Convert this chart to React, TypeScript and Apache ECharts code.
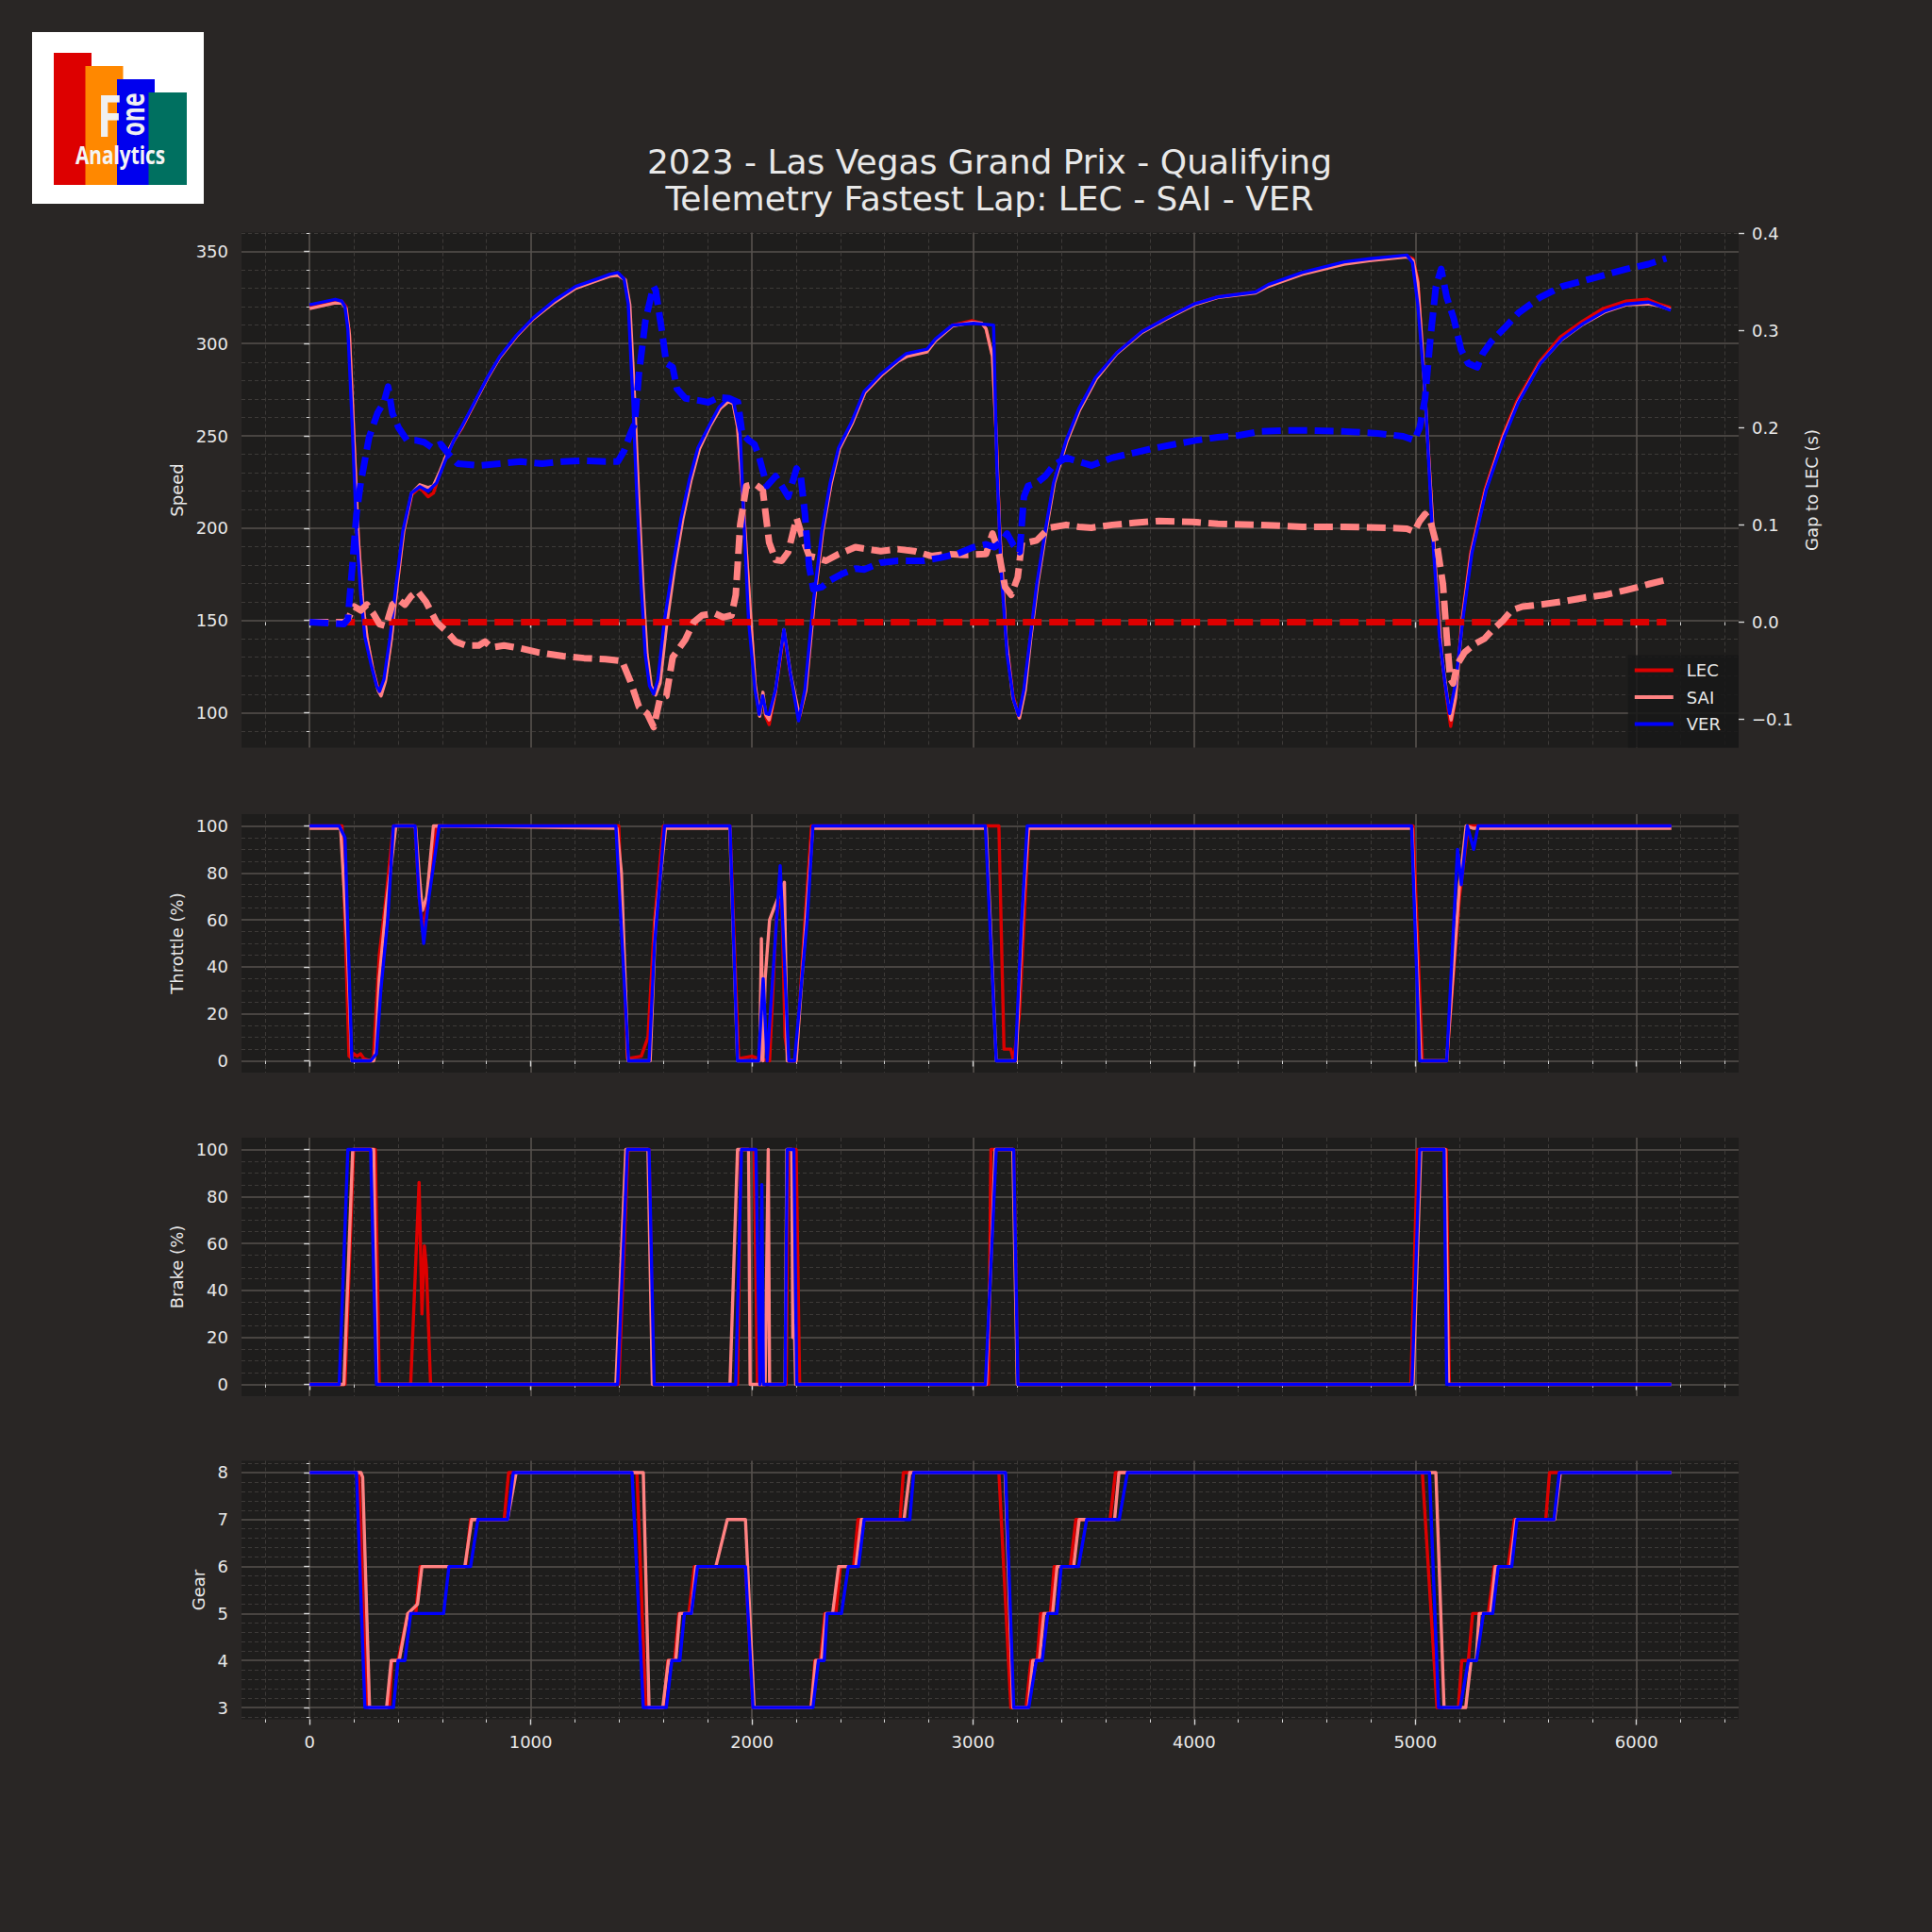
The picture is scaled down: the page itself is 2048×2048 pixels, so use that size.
import React, { useEffect, useRef } from 'react';
import * as echarts from 'echarts';

// ---------- tick labels ----------
const xTicks = [0, 1000, 2000, 3000, 4000, 5000, 6000];
const speedTicks = [100, 150, 200, 250, 300, 350];
const gapTicks = [-0.1, 0, 0.1, 0.2, 0.3, 0.4];
const pedalTicks = [0, 20, 40, 60, 80, 100];
const gearTicks = [3, 4, 5, 6, 7, 8];
const drivers = ['LEC', 'SAI', 'VER'];

const titleLine1 = '2023 - Las Vegas Grand Prix - Qualifying';
const titleLine2 = 'Telemetry Fastest Lap: LEC - SAI - VER';

// ---------- speed [distance m, km/h] ----------
const lecSpeed = [[0,320],[116,323],[145,323],[165,320],[180,305],[200,250],[220,195],[240,160],[260,140],[285,124],[310,113],[323,110.5],[343,118],[370,141],[398,171],[425,198],[462,218],[498,222],[536,217],[560,219],[590,230],[620,240],[650,247],[688,254],[745,267.5],[803,281],[860,292.5],[936,304],[1012,313.5],[1108,323],[1203,330.5],[1298,334.5],[1356,337],[1394,337.5],[1425,335],[1445,321],[1465,274],[1485,217],[1504,169.5],[1523,131.5],[1542,114.5],[1560,110.5],[1580,118],[1608,148.5],[1646,179],[1684,205.5],[1722,226.5],[1760,243.5],[1808,255],[1855,265],[1893,269],[1915,268],[1935,255],[1960,215],[1990,160],[2015,115],[2035,99],[2050,109],[2062,98],[2078,93.5],[2107,111],[2145,143],[2175,120],[2215,97.5],[2244,112],[2282,160],[2320,198],[2358,224.5],[2396,243.5],[2453,257],[2511,273.5],[2587,283],[2663,291],[2700,293],[2792,296],[2830,302],[2907,310],[2995,312.5],[3040,311],[3059,308],[3088,293],[3105,250],[3120,200],[3150,140],[3180,110],[3206,98],[3232,112.5],[3260,141],[3290,169.5],[3328,198],[3366,224.5],[3423,247.5],[3480,264.5],[3556,281.5],[3650,295],[3764,306.5],[3878,314],[4000,321.5],[4107,325.3],[4278,328],[4335,331.5],[4488,338],[4678,343.8],[4793,345.5],[4962,347.5],[4990,346],[5011,335],[5030,300],[5060,240],[5090,180],[5120,130],[5145,105],[5160,92.5],[5180,106],[5210,150],[5250,186.5],[5315,221],[5395,250],[5460,269],[5560,290],[5655,303.5],[5755,312],[5850,319],[5950,323],[6050,324],[6100,321.5],[6155,319.5]];
const saiSpeed = [[0,319],[116,322],[145,322],[165,319],[180,305],[200,250],[220,195],[240,160],[260,140],[285,124],[310,112],[323,109],[343,117],[370,140],[398,171],[425,198],[462,219],[498,223.5],[536,222],[560,223],[590,231],[620,240],[650,247],[688,254.5],[745,267.5],[803,281],[860,292.5],[936,304],[1012,313.5],[1108,322.5],[1203,330],[1298,334],[1356,336.5],[1394,337],[1428,334.5],[1448,321],[1468,274],[1488,217],[1507,169.5],[1526,131.5],[1545,114.5],[1565,109.5],[1585,116],[1613,146],[1650,178],[1688,205],[1725,226],[1763,243],[1810,255],[1858,265],[1893,268.5],[1915,267.5],[1935,255],[1960,215],[1990,160],[2015,115],[2035,98],[2050,111],[2062,99],[2078,96],[2107,112],[2145,145],[2175,121],[2215,98],[2244,112],[2282,160],[2320,198],[2358,224],[2396,243],[2453,256.5],[2511,273.5],[2587,283],[2663,290.5],[2700,293],[2792,295.5],[2830,301.5],[2907,309.5],[2995,311.5],[3040,311],[3059,308],[3088,293],[3105,250],[3120,200],[3150,140],[3180,108],[3210,97],[3236,112],[3262,141],[3292,169.5],[3330,198],[3368,224.5],[3425,247],[3482,264],[3558,281],[3650,294.5],[3764,306],[3878,313.5],[4000,321],[4107,325],[4278,327.5],[4335,331],[4488,337.5],[4678,343],[4793,345],[4962,347],[4990,345],[5011,333],[5030,300],[5060,240],[5090,180],[5120,130],[5145,108],[5162,96],[5182,108],[5212,150],[5252,186],[5318,220.5],[5398,249.5],[5463,268],[5562,289],[5660,302],[5758,310.5],[5855,317],[5953,321],[6052,321.5],[6100,320.5],[6155,318.5]];
const verSpeed = [[0,321],[116,324],[145,323],[160,320],[173,308],[193,255],[212,198],[231,164],[250,141],[278,126],[303,114.5],[316,111.5],[336,118],[364,141],[393,171],[421,198],[460,219],[498,222.5],[536,220],[574,224.5],[612,236],[650,247],[688,255],[745,268],[803,281.5],[860,293],[936,304.5],[1012,314],[1108,323.5],[1203,331],[1298,335],[1356,337.5],[1394,338.5],[1422,335],[1441,321.5],[1460,274],[1480,217],[1499,169.5],[1518,131.5],[1537,114.5],[1556,110],[1575,118],[1603,148.5],[1642,179],[1680,205.5],[1718,226.5],[1756,243.5],[1804,255],[1851,265.5],[1889,270],[1918,268],[1947,251],[1966,198],[1985,150],[2014,112.5],[2033,99],[2049,109],[2065,99.5],[2078,99],[2107,112.5],[2145,145],[2173,122],[2211,95.5],[2240,112.5],[2278,160],[2316,198],[2354,224.5],[2392,243.5],[2449,257],[2507,274],[2583,283.5],[2659,291],[2697,294.5],[2792,297],[2830,302.5],[2907,310],[3002,311],[3093,310],[3107,236],[3126,179],[3154,131.5],[3183,107],[3206,98.5],[3230,112.5],[3259,141],[3288,169.5],[3326,198],[3364,224.5],[3421,247.5],[3478,264.5],[3554,281.5],[3650,295],[3764,306.5],[3878,314],[4000,321.5],[4107,325.3],[4278,328],[4335,332],[4488,338.5],[4678,344.3],[4793,346],[4962,348],[4987,344],[5011,321.5],[5044,274],[5077,198],[5109,141],[5134,116],[5155,99.5],[5182,116],[5215,150.5],[5256,186.5],[5321,220.8],[5402,249.3],[5467,268.3],[5565,289.2],[5663,302.5],[5761,311],[5858,317.7],[5956,321.5],[6054,322.5],[6103,320.5],[6155,318]];

// ---------- gap to LEC [distance m, s] ----------
const lecDelta = [[0,0],[6135,0]];
const saiDelta = [[0,0],[160,0],[173,0.003],[202,0.016],[231,0.012],[259,0.018],[288,0.009],[316,-0.002],[345,-0.004],[374,0.018],[402,0.023],[431,0.018],[460,0.027],[488,0.032],[526,0.021],[574,0],[612,-0.008],[660,-0.02],[707,-0.024],[765,-0.024],[793,-0.02],[822,-0.026],[879,-0.024],[955,-0.027],[1031,-0.031],[1146,-0.035],[1241,-0.037],[1337,-0.038],[1413,-0.04],[1451,-0.061],[1489,-0.087],[1527,-0.094],[1556,-0.108],[1584,-0.079],[1613,-0.076],[1642,-0.036],[1699,-0.018],[1737,0],[1775,0.007],[1832,0.009],[1870,0.005],[1908,0.007],[1927,0.028],[1947,0.1],[1975,0.14],[2014,0.142],[2049,0.136],[2078,0.082],[2107,0.064],[2135,0.063],[2164,0.072],[2202,0.107],[2230,0.086],[2259,0.068],[2297,0.066],[2335,0.063],[2392,0.07],[2468,0.077],[2526,0.075],[2583,0.073],[2659,0.075],[2735,0.073],[2811,0.068],[2888,0.07],[2964,0.069],[3059,0.07],[3088,0.091],[3116,0.072],[3145,0.036],[3173,0.028],[3202,0.046],[3221,0.082],[3249,0.082],[3288,0.084],[3345,0.097],[3421,0.1],[3478,0.098],[3535,0.097],[3630,0.1],[3726,0.102],[3840,0.104],[3992,0.103],[4107,0.101],[4297,0.1],[4488,0.098],[4678,0.098],[4869,0.097],[4962,0.096],[4995,0.093],[5020,0.104],[5044,0.111],[5068,0.104],[5101,0.075],[5125,0.039],[5142,-0.015],[5158,-0.058],[5171,-0.063],[5191,-0.043],[5223,-0.031],[5272,-0.022],[5313,-0.017],[5345,-0.009],[5394,0.001],[5435,0.012],[5484,0.016],[5565,0.018],[5663,0.021],[5761,0.025],[5858,0.028],[5956,0.033],[6054,0.039],[6127,0.043]];
const verDelta = [[0,0],[80,-0.001],[155,-0.002],[173,0.003],[193,0.057],[212,0.111],[231,0.143],[269,0.19],[307,0.215],[336,0.226],[355,0.242],[374,0.215],[402,0.2],[440,0.187],[479,0.187],[517,0.185],[555,0.179],[593,0.183],[631,0.172],[669,0.163],[765,0.161],[860,0.163],[955,0.165],[1051,0.163],[1146,0.165],[1241,0.166],[1337,0.165],[1394,0.165],[1422,0.176],[1451,0.194],[1470,0.204],[1489,0.255],[1518,0.309],[1546,0.337],[1556,0.345],[1565,0.341],[1594,0.298],[1613,0.266],[1642,0.262],[1661,0.24],[1699,0.23],[1756,0.228],[1804,0.226],[1851,0.231],[1899,0.23],[1937,0.226],[1956,0.194],[1985,0.187],[2011,0.183],[2030,0.172],[2068,0.14],[2107,0.15],[2135,0.14],[2164,0.129],[2202,0.158],[2221,0.15],[2240,0.111],[2259,0.057],[2278,0.034],[2316,0.036],[2354,0.043],[2411,0.05],[2468,0.055],[2507,0.054],[2583,0.061],[2659,0.063],[2773,0.063],[2849,0.066],[2926,0.07],[3002,0.077],[3059,0.08],[3097,0.077],[3126,0.082],[3154,0.091],[3183,0.079],[3211,0.072],[3230,0.129],[3249,0.14],[3288,0.143],[3326,0.15],[3364,0.161],[3421,0.169],[3478,0.165],[3535,0.161],[3630,0.169],[3726,0.174],[3821,0.179],[3916,0.183],[4011,0.187],[4107,0.19],[4202,0.192],[4297,0.196],[4411,0.197],[4526,0.197],[4678,0.196],[4831,0.194],[4945,0.191],[4995,0.187],[5020,0.2],[5044,0.23],[5068,0.291],[5093,0.345],[5117,0.363],[5142,0.334],[5174,0.312],[5207,0.28],[5239,0.266],[5280,0.262],[5305,0.276],[5345,0.289],[5402,0.302],[5467,0.318],[5565,0.334],[5663,0.345],[5761,0.351],[5858,0.357],[5956,0.363],[6054,0.368],[6135,0.374]];

// ---------- throttle [distance m, %] ----------
const lecThrottle = [[0,100],[147,100],[178,2],[190,1],[200,3],[215,2],[230,3],[245,1],[276,0],[289,2],[315,45],[340,65],[379,100],[477,100],[495,70],[516,55],[540,75],[575,100],[1398,100],[1437,1],[1500,2],[1530,10],[1560,60],[1600,100],[1901,100],[1940,1],[2000,2],[2030,1],[2080,0],[2110,60],[2134,75],[2150,10],[2165,0],[2200,0],[2240,60],[2270,100],[3117,100],[3140,5],[3171,5],[3184,0],[3210,20],[3252,100],[4990,100],[5032,0],[5142,0],[5200,70],[5240,100],[6158,100]];
const saiThrottle = [[0,99],[140,99],[170,50],[190,0],[290,0],[300,5],[315,35],[345,65],[390,100],[470,100],[480,99],[495,80],[510,64],[530,70],[560,100],[1390,99],[1410,80],[1440,0],[1540,0],[1565,60],[1610,99],[1900,99],[1935,0],[2035,0],[2043,52],[2050,0],[2060,35],[2080,60],[2100,65],[2147,76],[2160,0],[2200,0],[2245,60],[2275,99],[3060,99],[3105,0],[3195,0],[3225,65],[3250,99],[4985,99],[5025,0],[5142,0],[5200,75],[5230,100],[5260,99],[6158,99]];
const verThrottle = [[0,100],[134,100],[160,95],[191,0],[276,0],[302,3],[322,30],[353,60],[379,100],[477,100],[495,70],[516,50],[540,70],[586,100],[1385,100],[1442,0],[1535,0],[1560,50],[1605,100],[1901,100],[1935,0],[2030,0],[2051,35],[2069,0],[2128,83],[2167,0],[2193,0],[2250,60],[2276,100],[3056,100],[3105,0],[3191,0],[3220,60],[3245,100],[4983,100],[5020,0],[5142,0],[5191,90],[5208,75],[5235,100],[5264,90],[5284,100],[6158,100]];

// ---------- brake [distance m, %] ----------
const lecBrake = [[0,0],[160,0],[199,100],[297,100],[315,0],[457,0],[495,86],[508,30],[519,59],[528,50],[547,0],[1398,0],[1440,100],[1535,100],[1555,0],[1935,0],[1950,100],[2010,100],[2025,0],[2155,0],[2165,100],[2200,100],[2216,0],[3070,0],[3081,100],[3184,100],[3203,0],[4980,0],[5010,100],[5140,100],[5154,0],[6158,0]];
const saiBrake = [[0,0],[155,0],[195,100],[290,100],[305,0],[1385,0],[1430,100],[1530,100],[1550,0],[1901,0],[1935,100],[1985,100],[1992,0],[2060,0],[2074,100],[2080,0],[2150,0],[2158,100],[2180,100],[2185,20],[2192,25],[2198,0],[3060,0],[3100,100],[3180,100],[3200,0],[4990,0],[5025,100],[5135,100],[5150,0],[6158,0]];
const verBrake = [[0,0],[134,0],[173,100],[276,100],[302,0],[1393,0],[1437,100],[1535,100],[1558,0],[1927,0],[1953,100],[2018,100],[2036,0],[2045,85],[2052,0],[2150,0],[2160,100],[2190,100],[2203,0],[3056,0],[3105,100],[3184,100],[3203,0],[4985,0],[5020,100],[5130,100],[5142,0],[6158,0]];

// ---------- gear [distance m, gear] ----------
const lecGear = [[0,8],[222,8],[258,3],[360,3],[372,4],[400,4],[444,5],[480,5],[500,6],[705,6],[728,7],[880,7],[900,8],[1480,8],[1520,3],[1600,3],[1620,4],[1650,4],[1670,5],[1715,5],[1740,6],[1971,6],[2005,3],[2268,3],[2285,4],[2310,4],[2330,5],[2380,5],[2400,6],[2460,6],[2480,7],[2670,7],[2685,8],[3117,8],[3171,3],[3240,3],[3262,4],[3290,4],[3306,5],[3350,5],[3367,6],[3440,6],[3465,7],[3620,7],[3644,8],[5032,8],[5098,3],[5195,3],[5210,4],[5240,4],[5259,5],[5330,5],[5357,6],[5420,6],[5448,7],[5590,7],[5607,8],[6158,8]];
const saiGear = [[0,8],[232,8],[240,7.9],[271,3],[348,3],[369,4],[405,4],[444,5],[488,5.2],[508,6],[702,6],[733,7],[895,7],[934,8],[1509,8],[1535,3],[1597,3],[1623,4],[1656,4],[1674,5],[1726,5],[1747,6],[1837,6],[1889,7],[1971,7],[2010,3],[2268,3],[2288,4],[2315,4],[2335,5],[2365,5],[2392,6],[2470,6],[2495,7],[2688,7],[2714,8],[3145,8],[3180,3],[3250,3],[3270,4],[3300,4],[3320,5],[3360,5],[3380,6],[3455,6],[3480,7],[3640,7],[3660,8],[5093,8],[5130,3],[5228,3],[5252,4],[5275,4],[5289,5],[5340,5],[5362,6],[5430,6],[5455,7],[5630,7],[5656,8],[6158,8]];
const verGear = [[0,8],[212,8],[250,3],[379,3],[400,4],[431,4],[457,5],[606,5],[630,6],[728,6],[761,7],[895,7],[921,8],[1458,8],[1509,3],[1613,3],[1638,4],[1674,4],[1695,5],[1726,5],[1754,6],[1971,6],[2005,3],[2276,3],[2301,4],[2327,4],[2340,5],[2405,5],[2436,6],[2482,6],[2508,7],[2714,7],[2732,8],[3147,8],[3184,3],[3252,3],[3286,4],[3313,4],[3338,5],[3379,5],[3399,6],[3477,6],[3514,7],[3661,7],[3698,8],[5064,8],[5105,3],[5203,3],[5240,4],[5277,4],[5308,5],[5350,5],[5375,6],[5436,6],[5460,7],[5627,7],[5651,8],[6158,8]];

// ---------- styling ----------
const FONT = 'DejaVu Sans';
const BG = '#292625';
const PLOT_BG = '#1e1d1c';
const TXT = '#e8e8e8';
const TICK = '#d6d6d6';
const MAJOR = '#57524e';
const MINOR = '#3d3a38';
const COLORS: Record<string, string> = { LEC: '#dd0000', SAI: '#ff8282', VER: '#0000ff' };

const GRID_LEFT = 256;
const GRID_W = 1587;
const grids = [
  { top: 246.5, height: 546 },
  { top: 863, height: 274 },
  { top: 1206, height: 274 },
  { top: 1548.5, height: 274 },
];

function xAxis(gridIndex: number, showLabels: boolean) {
  return {
    type: 'value', gridIndex, min: -308, max: 6462,
    axisLine: { show: false },
    axisTick: { show: true, length: 6, customValues: xTicks, lineStyle: { color: TICK, width: 1.4 } },
    minorTick: { show: true, splitNumber: 5, length: 3.5, lineStyle: { color: TICK, width: 1 } },
    axisLabel: { show: showLabels, customValues: xTicks, margin: 15, color: TXT, fontSize: 18, fontFamily: FONT, formatter: (v: number) => String(v) },
    splitLine: { show: true, lineStyle: { color: MAJOR, width: 1.6 } },
    minorSplitLine: { show: true, lineStyle: { color: MINOR, width: 1, type: [4, 3] } },
  };
}

function yAxis(gridIndex: number, min: number, max: number, ticks: number[], minorSplit: number, name: string, nameGap: number, extra: any = {}) {
  return {
    type: 'value', gridIndex, min, max, name, nameLocation: 'middle', nameGap, nameRotate: 90,
    nameTextStyle: { color: TXT, fontSize: 18, fontFamily: FONT },
    axisLine: { show: false },
    axisTick: { show: true, length: 6, customValues: ticks, lineStyle: { color: TICK, width: 1.4 } },
    minorTick: { show: minorSplit > 0, splitNumber: minorSplit || 5, length: 3.5, lineStyle: { color: TICK, width: 1 } },
    axisLabel: { customValues: ticks, margin: 14, color: TXT, fontSize: 18, fontFamily: FONT, formatter: (v: number) => String(v) },
    splitLine: { show: true, lineStyle: { color: MAJOR, width: 1.6 } },
    minorSplitLine: { show: minorSplit > 0, lineStyle: { color: MINOR, width: 1, type: [4, 3] } },
    ...extra,
  };
}

function line(name: string, data: number[][], xi: number, yi: number, color: string, width: number, dashed = false) {
  return {
    type: 'line', name, data, xAxisIndex: xi, yAxisIndex: yi,
    showSymbol: false, symbol: 'none', silent: true, color,
    lineStyle: { color, width, type: dashed ? [20, 8] : 'solid', cap: 'butt', join: 'round' },
    emphasis: { disabled: true }, z: dashed ? 3 : 2,
  };
}

const speedData: Record<string, number[][]> = { LEC: lecSpeed, SAI: saiSpeed, VER: verSpeed };
const deltaData: Record<string, number[][]> = { LEC: lecDelta, SAI: saiDelta, VER: verDelta };
const throttleData: Record<string, number[][]> = { LEC: lecThrottle, SAI: saiThrottle, VER: verThrottle };
const brakeData: Record<string, number[][]> = { LEC: lecBrake, SAI: saiBrake, VER: verBrake };
const gearData: Record<string, number[][]> = { LEC: lecGear, SAI: saiGear, VER: verGear };

function buildOption() {
  const series: any[] = [];
  drivers.forEach(d => series.push(line(d, speedData[d], 0, 0, COLORS[d], 3.4)));
  drivers.forEach(d => series.push(line(d + ' gap', deltaData[d], 0, 1, COLORS[d], 7, true)));
  drivers.forEach(d => series.push(line(d + ' throttle', throttleData[d], 1, 2, COLORS[d], 3.4)));
  drivers.forEach(d => series.push(line(d + ' brake', brakeData[d], 2, 3, COLORS[d], 3.4)));
  drivers.forEach(d => series.push(line(d + ' gear', gearData[d], 3, 4, COLORS[d], 3.4)));

  const gapFmt = (v: number) => (v < 0 ? '\u2212' + Math.abs(v).toFixed(1) : v.toFixed(1));

  return {
    animation: false,
    backgroundColor: BG,
    grid: grids.map(g => ({ left: GRID_LEFT, width: GRID_W, top: g.top, height: g.height, show: true, backgroundColor: PLOT_BG, borderWidth: 0, containLabel: false })),
    xAxis: [xAxis(0, false), xAxis(1, false), xAxis(2, false), xAxis(3, true)],
    yAxis: [
      yAxis(0, 81, 360.2, speedTicks, 5, 'Speed', 58),
      yAxis(0, -0.129, 0.4005, gapTicks, 0, 'Gap to LEC (s)', 66, {
        position: 'right',
        splitLine: { show: false },
        axisLabel: { customValues: gapTicks, margin: 14, color: TXT, fontSize: 18, fontFamily: FONT, formatter: gapFmt },
      }),
      yAxis(1, -5, 105, pedalTicks, 4, 'Throttle (%)', 58),
      yAxis(2, -5, 105, pedalTicks, 4, 'Brake (%)', 58),
      yAxis(3, 2.75, 8.25, gearTicks, 5, 'Gear', 34),
    ],
    legend: {
      data: drivers, orient: 'vertical', right: 205, bottom: 1255.5,
      icon: 'rect', itemWidth: 41, itemHeight: 4, itemGap: 10.5,
      backgroundColor: 'rgba(24,23,23,0.85)', padding: [7, 19, 16, 7],
      selectedMode: false,
      textStyle: { color: TXT, fontSize: 18, fontFamily: FONT, lineHeight: 18, padding: [0, 0, 0, 9] },
    },
    graphic: [
      { type: 'rect', shape: { x: 34, y: 34, width: 182, height: 182 }, style: { fill: '#ffffff' }, z: 10 },
      { type: 'rect', shape: { x: 57, y: 56, width: 40, height: 140 }, style: { fill: '#dd0000' }, z: 11 },
      { type: 'rect', shape: { x: 90.5, y: 70, width: 40, height: 126 }, style: { fill: '#ff8800' }, z: 12 },
      { type: 'rect', shape: { x: 124, y: 84, width: 40, height: 112 }, style: { fill: '#0000ee' }, z: 13 },
      { type: 'rect', shape: { x: 157.5, y: 98, width: 40.5, height: 98 }, style: { fill: '#007060' }, z: 14 },
      { type: 'text', x: 116, y: 122, scaleX: 0.8, z: 20, style: { text: 'F', fill: '#f0f0f0', fontSize: 60, fontWeight: 'bold', fontFamily: 'Open Sans', textAlign: 'center', textVerticalAlign: 'middle', align: 'center', verticalAlign: 'middle' } },
      { type: 'text', x: 140, y: 121.5, rotation: Math.PI / 2, scaleX: 0.72, z: 20, style: { text: 'one', fill: '#f0f0f0', fontSize: 34, fontWeight: 'bold', fontFamily: 'Open Sans', textAlign: 'center', textVerticalAlign: 'middle', align: 'center', verticalAlign: 'middle' } },
      { type: 'text', x: 127.5, y: 164.5, scaleX: 0.8, z: 20, style: { text: 'Analytics', fill: '#f4f4f4', fontSize: 26, fontWeight: 'bold', fontFamily: 'Open Sans', textAlign: 'center', textVerticalAlign: 'middle', align: 'center', verticalAlign: 'middle' } },
      { type: 'text', x: 1049, y: 171.5, z: 20, style: { text: titleLine1, fill: TXT, fontSize: 36, fontFamily: FONT, textAlign: 'center', textVerticalAlign: 'middle', align: 'center', verticalAlign: 'middle' } },
      { type: 'text', x: 1049, y: 210.5, z: 20, style: { text: titleLine2, fill: TXT, fontSize: 36, fontFamily: FONT, textAlign: 'center', textVerticalAlign: 'middle', align: 'center', verticalAlign: 'middle' } },
    ],
    series,
  };
}

export default function App() {
  const ref = useRef<HTMLDivElement>(null);
  useEffect(() => {
    if (!ref.current) return;
    const chart = echarts.init(ref.current, null, { renderer: 'svg' });
    chart.setOption(buildOption() as any);
    return () => chart.dispose();
  }, []);
  return (
    <div
      ref={ref}
      style={{ position: 'fixed', left: 0, top: 0, width: 2048, height: 2048, background: BG }}
    />
  );
}
